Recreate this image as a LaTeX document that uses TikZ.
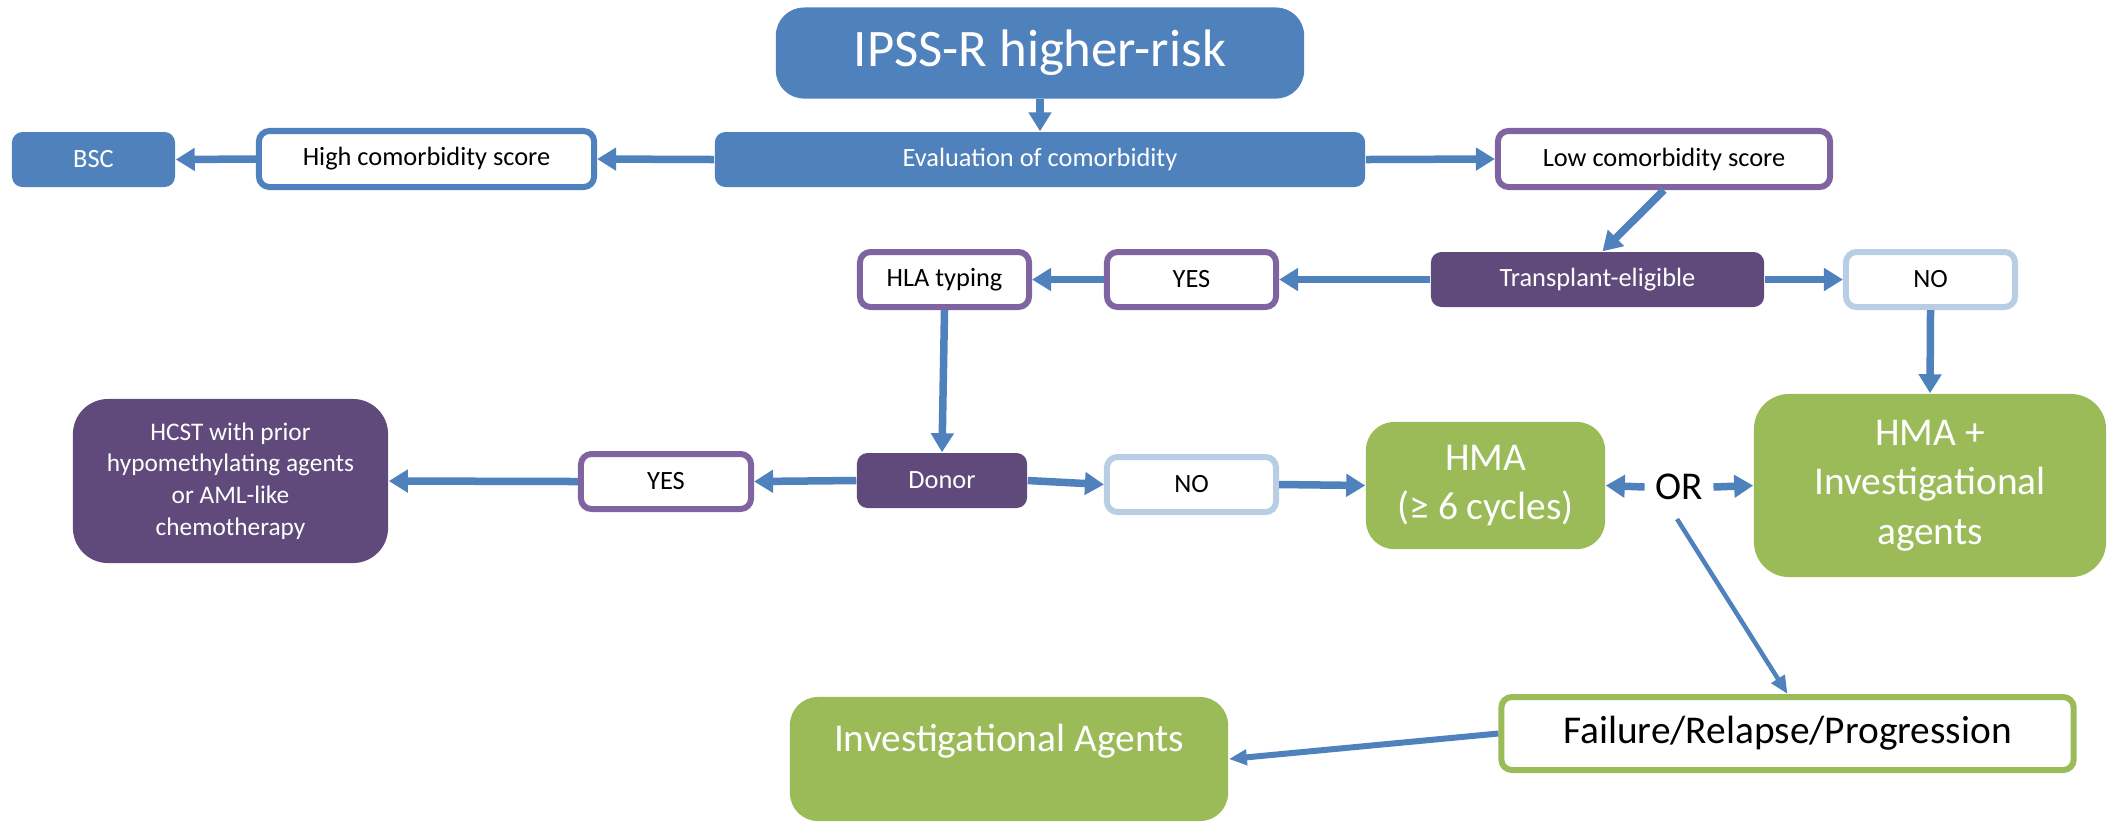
\documentclass[tikz,border=0pt]{standalone}
\usepackage{fontspec}
\setmainfont{Carlito}
\usetikzlibrary{calc,positioning,arrows.meta}
\definecolor{boxblue}{HTML}{4F81BD}
\definecolor{boxpurple}{HTML}{8064A2}
\definecolor{darkpurple}{HTML}{604A7B}
\definecolor{paleblue}{HTML}{B9CDE5}
\definecolor{boxgreen}{HTML}{9BBB59}
\newcommand{\smallfont}{\fontsize{7.5}{9}\selectfont}
\newcommand{\midfont}{\fontsize{11.2}{14}\selectfont}

\begin{document}
\begin{tikzpicture}[x=0.01cm,y=-0.01cm,
    filled/.style={fill=#1, text=white, rounded corners=3pt, inner sep=0pt, font=\smallfont},
    framed/.style={draw=#1, fill=white, line width=0.06cm, rounded corners=3pt, inner sep=0pt, font=\smallfont},
    link/.style={draw=boxblue, line width=0.075cm, -{Triangle[length=0.19cm,width=0.22cm]}},
    thinlink/.style={draw=boxblue, line width=0.045cm, -{Triangle[length=0.18cm,width=0.15cm]}}]
    \useasboundingbox (0,0) rectangle (2116,823);

    % top row
    \node[filled=boxblue, minimum width=5.28cm, minimum height=0.91cm, rounded corners=8pt,
          font=\fontsize{15}{18}\selectfont] (ipss) at (1040,53) {IPSS-R higher-risk};
    \node[filled=boxblue, minimum width=6.50cm, minimum height=0.55cm] (eval) at (1040,159.5) {Evaluation of comorbidity};
    \node[framed=boxblue, minimum width=3.35cm, minimum height=0.56cm] (high) at (426.5,159) {High comorbidity score};
    \node[filled=boxblue, minimum width=1.63cm, minimum height=0.55cm] (bsc) at (93.5,159.5) {BSC};
    \node[framed=boxpurple, minimum width=3.32cm, minimum height=0.56cm] (low) at (1664,159) {Low comorbidity score};

    % transplant row
    \node[filled=darkpurple, minimum width=3.33cm, minimum height=0.55cm] (trans) at (1597.5,279.5) {Transplant-eligible};
    \node[framed=boxpurple, minimum width=1.69cm, minimum height=0.55cm] (yesA) at (1191.5,279.5) {YES};
    \node[framed=boxpurple, minimum width=1.69cm, minimum height=0.55cm] (hla) at (944.5,279.5) {HLA typing};
    \node[framed=paleblue, minimum width=1.69cm, minimum height=0.55cm] (noA) at (1930.5,279.5) {NO};

    % donor row
    \node[filled=darkpurple, minimum width=1.70cm, minimum height=0.55cm] (donor) at (942,480.5) {Donor};
    \node[framed=boxpurple, minimum width=1.70cm, minimum height=0.55cm] (yesB) at (666,481.5) {YES};
    \node[filled=darkpurple, minimum width=3.15cm, minimum height=1.64cm, rounded corners=10pt, align=center,
          font=\fontsize{7.2}{9}\selectfont] (hcst) at (230.5,481)
          {HCST with prior\\hypomethylating agents\\or AML-like\\chemotherapy};
    \node[framed=paleblue, minimum width=1.69cm, minimum height=0.55cm] (noB) at (1191.5,484.5) {NO};
    \node[filled=boxgreen, minimum width=2.39cm, minimum height=1.27cm, rounded corners=8pt, align=center,
          font=\midfont] (hma) at (1485.5,485.5) {HMA\\(≥ 6 cycles)};
    \node[filled=boxgreen, minimum width=3.52cm, minimum height=1.83cm, rounded corners=10pt, align=center,
          font=\midfont] (hmap) at (1930,485.5) {HMA +\\Investigational\\agents};
    \node[font=\midfont, inner sep=0.1cm] (or) at (1679,487) {OR};

    % bottom row
    \node[framed=boxgreen, minimum width=5.72cm, minimum height=0.73cm, font=\midfont] (fail) at (1787.5,733.5) {Failure/Relapse/Progression};
    \node[filled=boxgreen, minimum width=4.38cm, text height=0.54cm, text depth=0.70cm, rounded corners=8pt,
          font=\midfont] (inv) at (1009,759) {Investigational Agents};

    \draw[link] (ipss.south) -- (eval.north);
    \draw[link] (eval.west) -- (high.east);
    \draw[link] (high.west) -- (bsc.east);
    \draw[link] (eval.east) -- (low.west);
    \draw[link] (low.south) -- ($(trans.north)+(5,0)$);
    \draw[link] (trans.west) -- (yesA.east);
    \draw[link] (yesA.west) -- (hla.east);
    \draw[link] (trans.east) -- (noA.west);
    \draw[link] (hla.south) -- (donor.north);
    \draw[link] (noA.south) -- (hmap.north);
    \draw[link] (donor.west) -- (yesB.east);
    \draw[link] (yesB.west) -- (hcst.east);
    \draw[link] (donor.east) -- (noB.west);
    \draw[link] (noB.east) -- (hma.west);
    \draw[link] (or.west) -- (hma.east);
    \draw[link] (or.east) -- (hmap.west);
    \coordinate (split) at ($(or)+(-2,32)$);
    \draw[thinlink] (split) -- (fail.north);
    \draw[thinlink, line width=0.06cm] (fail.west) -- (inv.east);
\end{tikzpicture}
\end{document}
